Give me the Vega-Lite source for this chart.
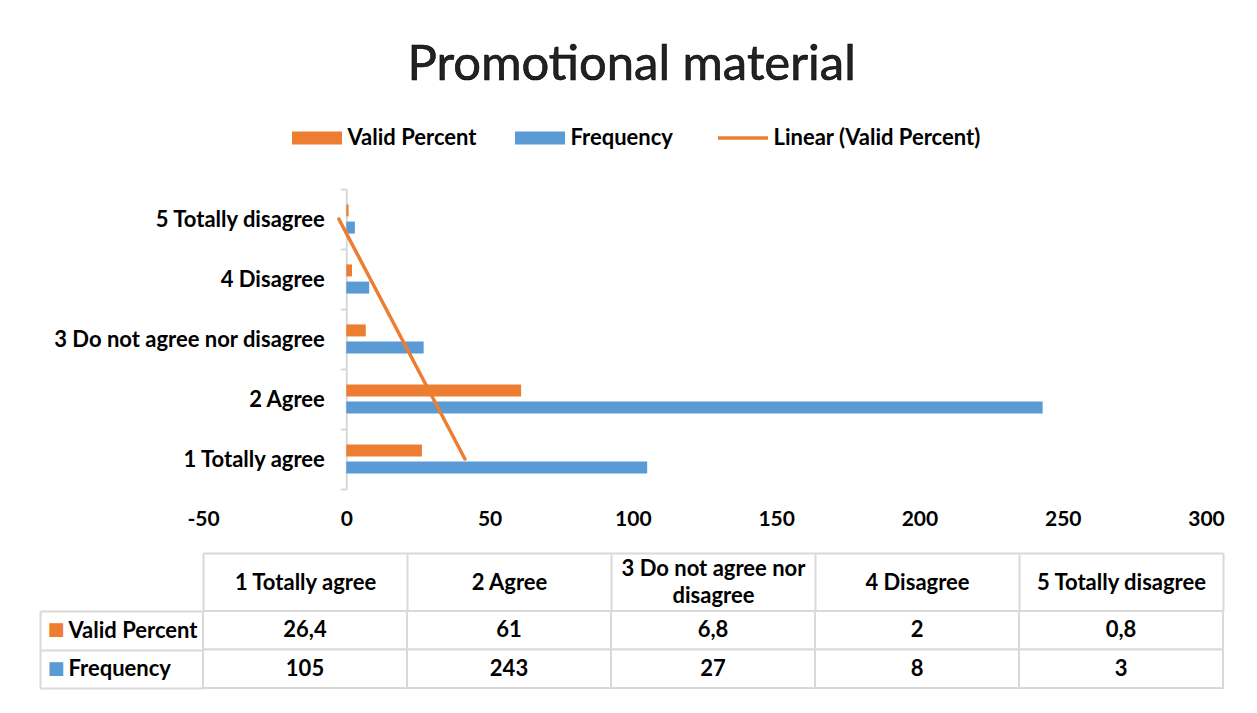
{
  "$schema": "https://vega.github.io/schema/vega-lite/v6.json",
  "background": "white",
  "padding": {"left": 39, "top": 41, "right": 10, "bottom": 10},
  "title": {
    "text": "Promotional material",
    "font": "Lato",
    "fontSize": 49,
    "fontWeight": "normal",
    "color": "#222222",
    "anchor": "middle",
    "offset": 37,
    "style": "chart-title"
  },
  "datasets": {
    "responses": [
      {"category": "1 Totally agree", "series": "Valid Percent", "value": 26.4},
      {"category": "2 Agree", "series": "Valid Percent", "value": 61},
      {"category": "3 Do not agree nor disagree", "series": "Valid Percent", "value": 6.8},
      {"category": "4 Disagree", "series": "Valid Percent", "value": 2},
      {"category": "5 Totally disagree", "series": "Valid Percent", "value": 0.8},
      {"category": "1 Totally agree", "series": "Frequency", "value": 105},
      {"category": "2 Agree", "series": "Frequency", "value": 243},
      {"category": "3 Do not agree nor disagree", "series": "Frequency", "value": 27},
      {"category": "4 Disagree", "series": "Frequency", "value": 8},
      {"category": "5 Totally disagree", "series": "Frequency", "value": 3}
    ],
    "trend": [
      {"category": "1 Totally agree", "trend": 41.4},
      {"category": "2 Agree", "trend": 30.4},
      {"category": "3 Do not agree nor disagree", "trend": 19.4},
      {"category": "4 Disagree", "trend": 8.4},
      {"category": "5 Totally disagree", "trend": -2.6}
    ]
  },
  "spacing": 23,
  "vconcat": [
    {
      "width": 1003,
      "height": 300,
      "data": {"name": "responses"},
      "layer": [
        {
          "mark": {"type": "bar"},
          "encoding": {
            "y": {
              "field": "category",
              "type": "nominal",
              "sort": ["5 Totally disagree", "4 Disagree", "3 Do not agree nor disagree", "2 Agree", "1 Totally agree"],
              "scale": {"paddingInner": 0, "paddingOuter": 0},
              "axis": {
                "title": null,
                "orient": "left",
                "offset": -143.3,
                "grid": false,
                "domainColor": "#d9d9d9",
                "domainWidth": 2,
                "tickBand": "extent",
                "tickSize": 6,
                "tickColor": "#d9d9d9",
                "tickWidth": 2,
                "labelFont": "Lato",
                "labelFontSize": 22,
                "labelFontWeight": "bold",
                "labelColor": "#000000",
                "labelPadding": 16,
                "labelLimit": 400
              }
            },
            "yOffset": {
              "field": "series",
              "type": "nominal",
              "sort": ["Valid Percent", "Frequency"],
              "scale": {"paddingInner": 0.3, "paddingOuter": 0.9}
            },
            "x": {
              "field": "value",
              "type": "quantitative",
              "scale": {"domain": [-50, 300], "nice": false, "zero": false},
              "axis": {
                "title": null,
                "values": [-50, 0, 50, 100, 150, 200, 250, 300],
                "domain": false,
                "ticks": false,
                "grid": false,
                "labelFont": "Lato",
                "labelFontSize": 21,
                "labelFontWeight": "bold",
                "labelColor": "#000000",
                "labelPadding": 19,
                "labelFlush": false,
                "labelOverlap": false
              }
            },
            "color": {
              "field": "series",
              "type": "nominal",
              "scale": {
                "domain": ["Valid Percent", "Frequency", "Linear (Valid Percent)"],
                "range": ["#ED7D31", "#5B9BD5", "#ED7D31"]
              },
              "legend": {
                "orient": "none",
                "legendX": 103,
                "legendY": -62,
                "direction": "horizontal",
                "title": null,
                "padding": 0,
                "labelFont": "Lato",
                "labelFontSize": 22,
                "labelFontWeight": "bold",
                "labelColor": "#000000",
                "labelOffset": 19.5,
                "labelLimit": 400,
                "columnPadding": 38,
                "symbolSize": 2500,
                "symbolType": "M-1,-0.26H1V0.26H-1Z",
                "encode": {
                  "symbols": {
                    "update": {
                      "shape": {"signal": "datum.value === 'Linear (Valid Percent)' ? 'M-1,0H1' : 'M-1,-0.26H1V0.26H-1Z'"},
                      "fill": {"signal": "datum.value === 'Linear (Valid Percent)' ? 'transparent' : (datum.value === 'Valid Percent' ? '#ED7D31' : '#5B9BD5')"},
                      "stroke": {"signal": "datum.value === 'Linear (Valid Percent)' ? '#ED7D31' : 'transparent'"},
                      "strokeWidth": {"signal": "datum.value === 'Linear (Valid Percent)' ? 3.5 : 0"},
                      "opacity": {"value": 1}
                    }
                  }
                }
              }
            }
          }
        },
        {
          "data": {"name": "trend"},
          "mark": {"type": "line", "strokeWidth": 3.5, "strokeCap": "round"},
          "encoding": {
            "y": {
              "field": "category",
              "type": "nominal",
              "sort": ["5 Totally disagree", "4 Disagree", "3 Do not agree nor disagree", "2 Agree", "1 Totally agree"]
            },
            "x": {"field": "trend", "type": "quantitative"},
            "color": {"datum": "Linear (Valid Percent)", "type": "nominal"}
          }
        }
      ]
    },
    {
      "width": 1020,
      "height": 77,
      "data": {"name": "responses"},
      "layer": [
        {
          "mark": {"type": "rect", "fill": "white", "stroke": "#d9d9d9", "strokeWidth": 2},
          "encoding": {
            "x": {
              "field": "category",
              "type": "nominal",
              "sort": ["1 Totally agree", "2 Agree", "3 Do not agree nor disagree", "4 Disagree", "5 Totally disagree"],
              "scale": {"paddingInner": 0, "paddingOuter": 0},
              "axis": {
                "orient": "top",
                "title": null,
                "offset": 58,
                "grid": false,
                "domain": true,
                "domainColor": "#d9d9d9",
                "domainWidth": 2,
                "ticks": true,
                "tickBand": "extent",
                "tickSize": -58,
                "tickColor": "#d9d9d9",
                "tickWidth": 2,
                "labelAngle": 0,
                "labelBaseline": "middle",
                "labelPadding": {
                  "condition": {"test": "datum.value === '3 Do not agree nor disagree'", "value": 42.5},
                  "value": 29
                },
                "labelFont": "Lato",
                "labelFontSize": 22,
                "labelFontWeight": "bold",
                "labelColor": "#000000",
                "labelLimit": 300,
                "labelLineHeight": 27,
                "labelOverlap": false,
                "labelExpr": "datum.value === '3 Do not agree nor disagree' ? ['3 Do not agree nor', 'disagree'] : datum.value"
              }
            },
            "y": {
              "field": "series",
              "type": "nominal",
              "sort": ["Valid Percent", "Frequency"],
              "scale": {"paddingInner": 0, "paddingOuter": 0},
              "axis": {
                "orient": "left",
                "title": null,
                "grid": false,
                "domain": false,
                "ticks": true,
                "tickBand": "extent",
                "tickSize": 163,
                "tickColor": "#d9d9d9",
                "tickWidth": 2,
                "labelAlign": "left",
                "labelBaseline": "middle",
                "labelPadding": -28,
                "labelFont": "Lato",
                "labelFontSize": 22,
                "labelFontWeight": "bold",
                "labelColor": "#000000",
                "labelLimit": 300
              }
            }
          }
        },
        {
          "mark": {"type": "text", "font": "Lato", "fontSize": 22, "fontWeight": "bold", "color": "#000000"},
          "encoding": {
            "x": {
              "field": "category",
              "type": "nominal",
              "sort": ["1 Totally agree", "2 Agree", "3 Do not agree nor disagree", "4 Disagree", "5 Totally disagree"]
            },
            "y": {
              "field": "series",
              "type": "nominal",
              "sort": ["Valid Percent", "Frequency"],
              "axis": {
                "orient": "left",
                "title": null,
                "offset": 163,
                "grid": false,
                "domain": true,
                "domainColor": "#d9d9d9",
                "domainWidth": 2,
                "ticks": false,
                "labelExpr": "'■'",
                "labelAlign": "left",
                "labelBaseline": "middle",
                "labelPadding": -7,
                "labelFont": "DejaVu Sans",
                "labelFontSize": 18,
                "labelColor": {
                  "condition": {"test": "datum.value === 'Valid Percent'", "value": "#ED7D31"},
                  "value": "#5B9BD5"
                }
              }
            },
            "text": {"field": "value", "type": "quantitative", "format": "~g"}
          }
        }
      ],
      "resolve": {"axis": {"y": "independent"}}
    }
  ],
  "config": {
    "font": "Lato",
    "view": {"stroke": null},
    "axis": {"grid": false},
    "locale": {
      "number": {"decimal": ",", "thousands": ".", "grouping": [3], "currency": ["", " €"], "minus": "-"}
    },
    "style": {"chart-title": {"stroke": "#000000", "strokeWidth": 0.6}}
  }
}
